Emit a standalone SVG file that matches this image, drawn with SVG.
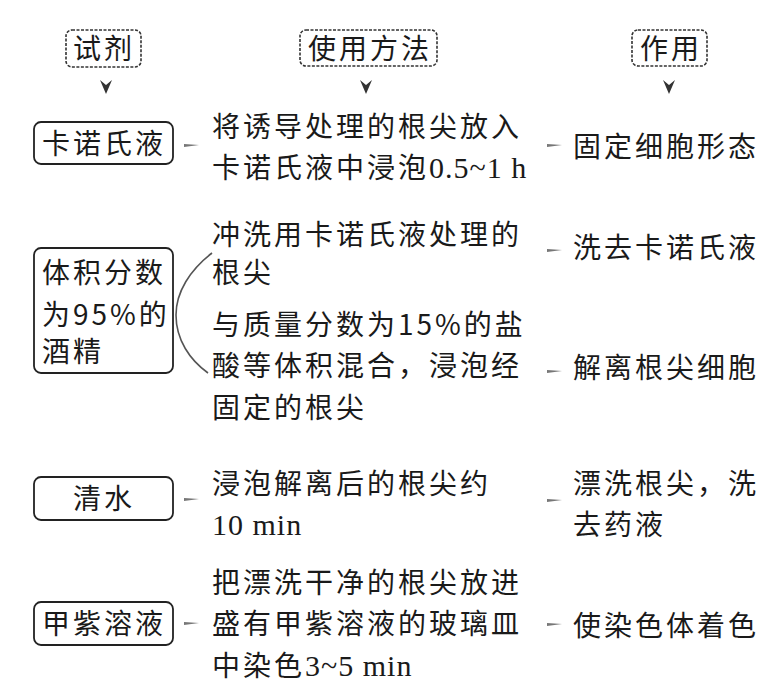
<svg xmlns="http://www.w3.org/2000/svg" width="779" height="695" viewBox="0 0 779 695">
<style>
.t{font-family:"Noto Sans CJK SC","Liberation Sans",sans-serif;font-size:28px;fill:#1a1a1a;letter-spacing:3px}
.l{font-family:"Liberation Serif",serif;font-size:30px;letter-spacing:1px}
.hb{fill:none;stroke:#333;stroke-width:1.6;stroke-dasharray:3 1.5}
.b{fill:none;stroke:#222;stroke-width:1.8}
.c{fill:#777}
.a{fill:#333}
</style>
<rect width="779" height="695" fill="#fff"/>
<g id="h1"><rect class="hb" x="66" y="30" width="75" height="37" rx="6"/><text class="t" x="104" y="59" text-anchor="middle">试剂</text></g>
<g id="h2"><rect class="hb" x="300" y="30" width="137" height="36" rx="6"/><text class="t" x="370" y="59" text-anchor="middle">使用方法</text></g>
<g id="h3"><rect class="hb" x="632" y="30" width="75" height="36" rx="6"/><text class="t" x="671" y="59" text-anchor="middle">作用</text></g>

<g id="r1"><rect class="b" x="34" y="122" width="139" height="42" rx="7"/><text class="t" x="42" y="154">卡诺氏液</text></g>
<g id="r2"><rect class="b" x="34" y="248" width="139" height="125" rx="7"/><text class="t" x="42" y="283">体积分数</text><text class="t" x="42" y="325">为95%的</text><text class="t" x="42" y="362">酒精</text></g>
<g id="r3"><rect class="b" x="34" y="477" width="139" height="43" rx="7"/><text class="t" x="104" y="509" text-anchor="middle">清水</text></g>
<g id="r4"><rect class="b" x="34" y="602" width="139" height="43" rx="7"/><text class="t" x="42" y="634">甲紫溶液</text></g>

<g id="m1"><text class="t" x="212" y="137">将诱导处理的根尖放入</text><text class="t" x="212" y="178">卡诺氏液中浸泡<tspan class="l">0.5~1 h</tspan></text></g>
<g id="m2"><text class="t" x="212" y="245">冲洗用卡诺氏液处理的</text><text class="t" x="212" y="283">根尖</text></g>
<g id="m3"><text class="t" x="212" y="335">与质量分数为15%的盐</text><text class="t" x="212" y="376">酸等体积混合，浸泡经</text><text class="t" x="212" y="418">固定的根尖</text></g>
<g id="m4"><text class="t" x="212" y="494">浸泡解离后的根尖约</text><text class="t" x="212" y="535"><tspan class="l">10 min</tspan></text></g>
<g id="m5"><text class="t" x="212" y="593">把漂洗干净的根尖放进</text><text class="t" x="212" y="634">盛有甲紫溶液的玻璃皿</text><text class="t" x="212" y="676">中染色<tspan class="l">3~5 min</tspan></text></g>

<g id="e1"><text class="t" x="573" y="157">固定细胞形态</text></g>
<g id="e2"><text class="t" x="573" y="258">洗去卡诺氏液</text></g>
<g id="e3"><text class="t" x="573" y="378">解离根尖细胞</text></g>
<g id="e4"><text class="t" x="573" y="494">漂洗根尖，洗</text><text class="t" x="573" y="535">去药液</text></g>
<g id="e5"><text class="t" x="573" y="636">使染色体着色</text></g>

<g id="connectors">
<path class="a" d="M100 80 L106 85 L112 80 L106 94 Z"/>
<path class="a" d="M360 80 L366 85 L372 80 L366 94 Z"/>
<path class="a" d="M663 80 L669 85 L675 80 L669 94 Z"/>
<path class="c" d="M184 144 L199 145 L184 147 Z"/>
<path class="c" d="M184 498 L199 499 L184 501 Z"/>
<path class="c" d="M184 622 L199 623 L184 625 Z"/>
<path class="c" d="M547 144 L562 145 L547 147 Z"/>
<path class="c" d="M547 249 L562 250 L547 252 Z"/>
<path class="c" d="M547 370 L562 371 L547 373 Z"/>
<path class="c" d="M547 499 L562 500 L547 502 Z"/>
<path class="c" d="M547 623 L562 624 L547 626 Z"/>
<path d="M212 253 C190 270 176 292 176 315 C176 340 190 360 208 373" fill="none" stroke="#555" stroke-width="1.6"/>
</g>
</svg>
